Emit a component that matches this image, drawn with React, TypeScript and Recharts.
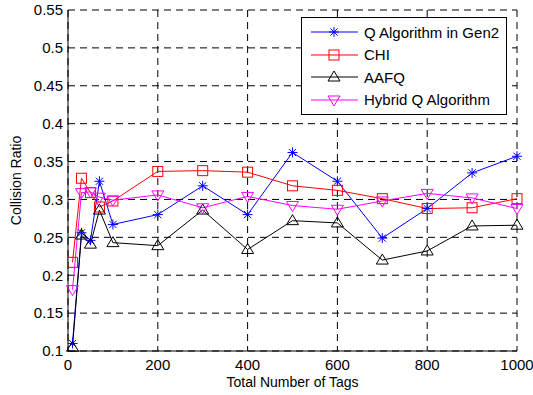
import React from "react";
import { LineChart, Line, XAxis, YAxis, CartesianGrid, Legend, Label } from "recharts";

const xValues = [10, 30, 50, 70, 100, 200, 300, 400, 500, 600, 700, 800, 900, 1000];
const gen2    = [0.110, 0.256, 0.246, 0.324, 0.267, 0.280, 0.318, 0.280, 0.362, 0.324, 0.249, 0.288, 0.335, 0.357];
const chi     = [0.217, 0.328, 0.309, 0.290, 0.298, 0.337, 0.338, 0.336, 0.318, 0.312, 0.301, 0.288, 0.289, 0.301];
const aafq    = [0.105, 0.253, 0.241, 0.286, 0.243, 0.239, 0.286, 0.234, 0.272, 0.269, 0.220, 0.232, 0.265, 0.266];
const hybrid  = [0.181, 0.309, 0.310, 0.303, 0.299, 0.306, 0.289, 0.304, 0.292, 0.287, 0.298, 0.308, 0.302, 0.288];

const xTicks = [0, 200, 400, 600, 800, 1000];
const yTicks = [0.1, 0.15, 0.2, 0.25, 0.3, 0.35, 0.4, 0.45, 0.5, 0.55];

const seriesNames = ["Q Algorithm in Gen2", "CHI", "AAFQ", "Hybrid Q Algorithm"];

const data = xValues.map((x, i) => ({
  x,
  gen2: gen2[i],
  chi: chi[i],
  aafq: aafq[i],
  hybrid: hybrid[i],
}));

const FONT = '"Liberation Sans", Arial, Helvetica, sans-serif';

type Shape = "star" | "square" | "up" | "down";

function Marker({ cx, cy, shape, color }: { cx: number; cy: number; shape: Shape; color: string }) {
  const r = 5;
  if (shape === "star") {
    const d = r * 0.72;
    return (
      <g stroke={color} strokeWidth={1} fill="none">
        <line x1={cx - r} y1={cy} x2={cx + r} y2={cy} />
        <line x1={cx} y1={cy - r} x2={cx} y2={cy + r} />
        <line x1={cx - d} y1={cy - d} x2={cx + d} y2={cy + d} />
        <line x1={cx - d} y1={cy + d} x2={cx + d} y2={cy - d} />
      </g>
    );
  }
  if (shape === "square") {
    return <rect x={cx - r} y={cy - r} width={r * 2} height={r * 2} stroke={color} strokeWidth={1} fill="none" />;
  }
  if (shape === "up") {
    return (
      <polygon
        points={`${cx},${cy - r - 1} ${cx - r - 1},${cy + r - 1} ${cx + r + 1},${cy + r - 1}`}
        stroke={color} strokeWidth={1} fill="none"
      />
    );
  }
  return (
    <polygon
      points={`${cx},${cy + r + 1} ${cx - r - 1},${cy - r + 1} ${cx + r + 1},${cy - r + 1}`}
      stroke={color} strokeWidth={1} fill="none"
    />
  );
}

const series: { key: string; color: string; shape: Shape }[] = [
  { key: "gen2",   color: "#0000ff", shape: "star" },
  { key: "chi",    color: "#ff0000", shape: "square" },
  { key: "aafq",   color: "#000000", shape: "up" },
  { key: "hybrid", color: "#ff00ff", shape: "down" },
];

function MatlabLegend() {
  return (
    <div
      style={{
        background: "#fff",
        border: "1px solid #000",
        width: 206,
        padding: "3px 0",
        fontFamily: FONT,
        fontSize: 15,
        color: "#000",
        boxSizing: "border-box",
      }}
    >
      {series.map((s, i) => (
        <div key={s.key} style={{ display: "flex", alignItems: "center", height: 22.5 }}>
          <svg width={58} height={20} style={{ flex: "none" }}>
            <line x1={9} y1={10} x2={56} y2={10} stroke={s.color} strokeWidth={1} />
            <Marker cx={32} cy={10} shape={s.shape} color={s.color} />
          </svg>
          <span style={{ marginLeft: 4, whiteSpace: "nowrap" }}>{seriesNames[i]}</span>
        </div>
      ))}
    </div>
  );
}

export default function App() {
  return (
    <div style={{ position: "absolute", left: 0, top: 0, width: 533, height: 395, background: "#fff" }}>
      <LineChart width={533} height={395} data={data} margin={{ top: 10, right: 16, bottom: 0, left: 0 }}>
        <CartesianGrid stroke="#000" strokeDasharray="7 5" strokeWidth={1} />
        <XAxis
          dataKey="x"
          type="number"
          domain={[0, 1000]}
          ticks={xTicks}
          interval={0}
          height={44}
          tickLine={false}
          tickSize={0}
          tickMargin={8}
          axisLine={{ stroke: "#000" }}
          tick={{ fill: "#000", fontSize: 15, fontFamily: FONT }}
        >
          <Label value="Total Number of Tags" position="center" dy={9} style={{ fill: "#000", fontSize: 14, fontFamily: FONT }} />
        </XAxis>
        <YAxis
          type="number"
          domain={[0.1, 0.55]}
          ticks={yTicks}
          interval={0}
          width={68}
          tickLine={false}
          tickSize={0}
          tickMargin={5}
          axisLine={{ stroke: "#000" }}
          tickFormatter={(v: number) => String(+v.toFixed(2))}
          tick={{ fill: "#000", fontSize: 15, fontFamily: FONT }}
        >
          <Label value="Collision Ratio" angle={-90} position="center" dx={-18} style={{ fill: "#000", fontSize: 14, fontFamily: FONT, textAnchor: "middle" }} />
        </YAxis>
        <Legend
          layout="horizontal"
          verticalAlign="middle"
          align="center"
          content={() => <MatlabLegend />}
          wrapperStyle={{ position: "absolute", left: 301, top: 17, width: 206, height: "auto" }}
        />
        {series.map((s, i) => (
          <Line
            key={s.key}
            dataKey={s.key}
            name={seriesNames[i]}
            stroke={s.color}
            strokeWidth={1}
            isAnimationActive={false}
            activeDot={false}
            dot={(p: any) => <Marker key={`${s.key}-${p.index}`} cx={p.cx} cy={p.cy} shape={s.shape} color={s.color} />}
          />
        ))}
      </LineChart>
    </div>
  );
}
